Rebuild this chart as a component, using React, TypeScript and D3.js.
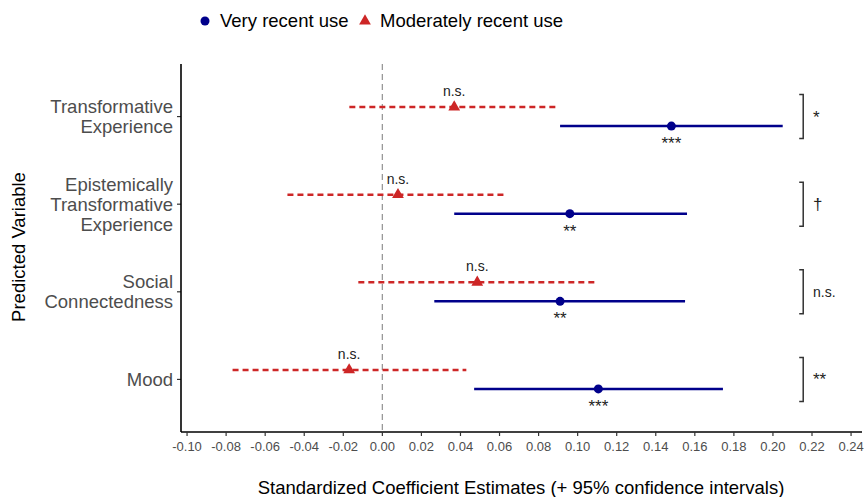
import React from "react";
import * as d3 from "d3";

const WIDTH = 866;
const HEIGHT = 497;

const predictors = [
  ["Transformative", "Experience"],
  ["Epistemically", "Transformative", "Experience"],
  ["Social", "Connectedness"],
  ["Mood"],
];

// very recent use
const veryEst = [0.148, 0.096, 0.091, 0.1106];
const veryLo = [0.091, 0.0368, 0.0266, 0.047];
const veryHi = [0.205, 0.156, 0.155, 0.1744];
const veryStars = ["***", "**", "**", "***"];

// moderately recent use
const modEst = [0.0368, 0.008, 0.0486, -0.017];
const modLo = [-0.0169, -0.0486, -0.0123, -0.0767];
const modHi = [0.089, 0.063, 0.1095, 0.043];
const modStars = ["n.s.", "n.s.", "n.s.", "n.s."];

// difference between the two
const diffStars = ["*", "\u2020", "n.s.", "**"];

const xTicks = d3.range(-0.1, 0.2401, 0.02);

const BLUE = "#00008B";
const RED = "#CD2626";
const FONT = "Liberation Sans, Arial, sans-serif";

const margin = { top: 64, right: 4, bottom: 65, left: 181 };

const App = () => {
  const x = d3.scaleLinear().domain([-0.1031, 0.2456]).range([margin.left, WIDTH - margin.right]);
  const y = d3
    .scalePoint<number>()
    .domain(predictors.map((_, i) => i))
    .range([margin.top, HEIGHT - margin.bottom])
    .padding(0.6);
  const dodge = 9.5;
  const axisY = HEIGHT - margin.bottom;

  const tri = d3.symbol().type(d3.symbolTriangle).size(60)();
  const fmt = (v: number) => d3.format(".2f")(v).replace("\u2212", "-");
  const sigSize = (s: string) => (s === "n.s." ? 14 : 17);

  return (
    <svg
      width={WIDTH}
      height={HEIGHT}
      style={{ position: "absolute", left: 0, top: 0 }}
      fontFamily={FONT}
    >
      {/* legend */}
      <g>
        <circle cx={205} cy={21} r={4.5} fill={BLUE} />
        <text x={220} y={21} dy="0.35em" fontSize={18.5}>
          Very recent use
        </text>
        <path d={tri} transform="translate(365,21)" fill={RED} />
        <text x={380} y={21} dy="0.35em" fontSize={18.5}>
          Moderately recent use
        </text>
      </g>

      {/* zero line */}
      <line
        x1={x(0)}
        x2={x(0)}
        y1={margin.top}
        y2={axisY}
        stroke="#999"
        strokeWidth={1.3}
        strokeDasharray="6,4"
      />

      {predictors.map((lines, i) => {
        const cy = y(i)!;
        const ry = cy - dodge;
        const by = cy + dodge;
        const bx = x(0.2155);
        return (
          <g key={i}>
            {/* moderately recent */}
            <line
              x1={x(modLo[i])}
              x2={x(modHi[i])}
              y1={ry}
              y2={ry}
              stroke={RED}
              strokeWidth={2.5}
              strokeDasharray="6,4"
            />
            <path d={tri} transform={`translate(${x(modEst[i])},${ry})`} fill={RED} />
            <text x={x(modEst[i])} y={ry - 11} fontSize={14} textAnchor="middle" fill="#222">
              {modStars[i]}
            </text>
            {/* very recent */}
            <line x1={x(veryLo[i])} x2={x(veryHi[i])} y1={by} y2={by} stroke={BLUE} strokeWidth={2.5} />
            <circle cx={x(veryEst[i])} cy={by} r={4.5} fill={BLUE} />
            <text x={x(veryEst[i])} y={by + 23} fontSize={17} textAnchor="middle" fill="#222">
              {veryStars[i]}
            </text>
            {/* bracket */}
            <path
              d={`M${bx - 4},${cy - 22}H${bx}V${cy + 22}H${bx - 4}`}
              fill="none"
              stroke="#333"
              strokeWidth={1.5}
            />
            <text x={x(0.2205)} y={cy} dy="0.35em" fontSize={sigSize(diffStars[i])} fill="#222">
              {diffStars[i]}
            </text>
            {/* y tick */}
            <line x1={margin.left - 4} x2={margin.left} y1={cy} y2={cy} stroke="#333" strokeWidth={1.2} />
            <text fontSize={18.5} fill="#4d4d4d" textAnchor="end">
              {lines.map((l, j) => (
                <tspan key={j} x={margin.left - 8} y={cy + (j - (lines.length - 1) / 2) * 20} dy="0.35em">
                  {l}
                </tspan>
              ))}
            </text>
          </g>
        );
      })}

      {/* axes */}
      <line x1={margin.left} x2={margin.left} y1={margin.top} y2={axisY} stroke="#000" strokeWidth={1.6} />
      <line x1={margin.left} x2={WIDTH - margin.right} y1={axisY} y2={axisY} stroke="#000" strokeWidth={1.6} />
      {xTicks.map((t) => (
        <g key={t}>
          <line x1={x(t)} x2={x(t)} y1={axisY} y2={axisY + 4} stroke="#333" strokeWidth={1.2} />
          <text x={x(t)} y={axisY + 19} fontSize={13} fill="#4d4d4d" textAnchor="middle">
            {fmt(t)}
          </text>
        </g>
      ))}

      <text x={521} y={494} fontSize={18.5} textAnchor="middle">
        Standardized Coefficient Estimates (+ 95% confidence intervals)
      </text>
      <text transform="translate(25,247) rotate(-90)" fontSize={18.5} textAnchor="middle">
        Predicted Variable
      </text>
    </svg>
  );
};

export default App;
